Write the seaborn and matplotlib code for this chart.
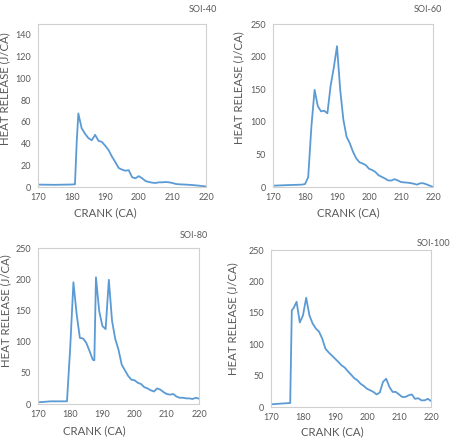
import numpy as np
import pandas as pd
import matplotlib
matplotlib.use("Agg")
import matplotlib.pyplot as plt
import seaborn as sns

# Crank angle (CA) and heat release (J/CA)
crank_40 = [170, 175, 180, 181, 181.5, 182, 183, 184, 185, 186, 187, 188, 189, 190, 191, 192,
            193, 194, 195, 196, 197, 198, 199, 200, 201, 202, 203, 204, 205, 206, 207, 208,
            209, 210, 211, 212, 214, 216, 218, 220]
hrr_40 = [2.2, 2.0, 2.3, 2.5, 40, 67.7, 54, 49, 45, 43, 48, 42.5, 41.5, 38, 34, 28,
          23, 17.5, 16, 15, 15.5, 9, 8, 10, 8, 5.5, 4.6, 4, 3.7, 4.3, 4.3, 4.6,
          4.3, 3.7, 2.8, 2.5, 2.2, 1.8, 1.2, 0.5]

crank_60 = [170, 175, 179, 180, 181, 182, 183, 184, 185, 186, 187, 188, 189, 190, 191, 192,
            193, 194, 195, 196, 197, 198, 199, 200, 201, 202, 203, 204, 205, 206, 207, 208,
            209, 210, 211, 212, 213, 214, 215, 216, 217, 218, 219, 220]
hrr_60 = [2, 3, 3.6, 4.5, 15, 93, 149, 124, 116, 117, 113, 155, 183, 216, 149, 103,
          77, 67, 54, 44, 38, 36, 33.5, 28, 26, 23, 18, 15.5, 13, 10, 10, 12,
          10, 7.7, 7, 6.7, 6, 5, 3.6, 5.7, 5.7, 4, 2, 0]

crank_80 = [170, 174, 179, 180, 181, 182, 183, 184, 185, 186, 187, 187.5, 188, 189, 190, 191,
            192, 193, 194, 195, 196, 197, 198, 199, 200, 201, 202, 203, 204, 205, 206, 207,
            208, 209, 210, 211, 212, 213, 214, 215, 216, 217, 218, 219, 220]
hrr_80 = [2.7, 4.3, 4.3, 90, 195, 144, 106, 105, 98, 85, 71, 70, 203, 149, 125, 120,
          199, 133, 104, 87, 63, 54, 45, 39, 38, 34, 32, 27, 25, 22, 20, 25,
          23, 19, 16, 15, 16, 12, 10, 10, 9, 9, 8, 10, 8.5]

crank_100 = [170, 176, 176.5, 177, 178, 179, 180, 181, 182, 183, 184, 185, 186, 187, 188, 189,
             190, 191, 192, 193, 194, 195, 196, 197, 198, 199, 200, 201, 202, 203, 204, 205,
             206, 207, 208, 209, 210, 211, 212, 213, 214, 215, 216, 217, 218, 219, 220]
hrr_100 = [4.3, 6.4, 154, 157, 167.5, 134.6, 146, 174, 146, 133, 125, 120, 109, 93, 87, 82,
           77, 72, 66.5, 63, 57, 51.6, 46, 42.5, 37, 33.5, 29, 26.6, 24, 20, 23, 40,
           45, 32, 24, 24, 20, 16, 16, 18.6, 20, 13, 14, 10.6, 10.6, 13, 9.6]

panels = [
    ("SOI-40", crank_40, hrr_40, 150, np.arange(0, 141, 20)),
    ("SOI-60", crank_60, hrr_60, 250, np.arange(0, 251, 50)),
    ("SOI-80", crank_80, hrr_80, 250, np.arange(0, 251, 50)),
    ("SOI-100", crank_100, hrr_100, 250, np.arange(0, 251, 50)),
]

W, H = 451, 440

# axes boxes in pixels: left, top, right, bottom
boxes = [(38, 24, 206, 187), (273, 24, 433, 187), (38, 248, 199, 404), (271, 250, 431, 407)]
# label centres in pixels
xlab_px = [(105, 213), (348, 213), (94, 431), (332, 432)]
ylab_px = [(5, 89), (239, 88), (6, 311), (233, 319)]
# SOI tag: right edge, vertical centre
tag_px = [(217, 10), (442, 10), (208, 235), (450, 243)]

sns.set_style("white")
plt.rcParams["font.family"] = ["Lato", "DejaVu Sans"]

line_color = "#5B9BD5"
text_gray = "#595959"


def fx(px):
    return px / W


def fy(py):
    return 1 - py / H


fig = plt.figure(figsize=(W / 100, H / 100), dpi=100)

for i, (name, x, y, ymax, yticks) in enumerate(panels):
    l, t, r, b = boxes[i]
    ax = fig.add_axes([fx(l), fy(b), (r - l) / W, (b - t) / H])
    df = pd.DataFrame({"crank": x, "hrr": y})
    sns.lineplot(data=df, x="crank", y="hrr", ax=ax, color=line_color, linewidth=1.3)
    ax.set_xlim(170, 220)
    ax.set_ylim(0, ymax)
    ax.set_xticks(np.arange(170, 221, 10))
    ax.set_yticks(yticks)
    ax.tick_params(axis="x", length=0, labelsize=6.5, colors=text_gray, pad=4)
    ax.tick_params(axis="y", length=0, labelsize=6.5, colors=text_gray, pad=5)
    for s in ax.spines.values():
        s.set_color("#D0D0D0")
        s.set_linewidth(0.8)
    ax.set_xlabel("CRANK (CA)", fontsize=8.2, color=text_gray, va="center")
    ax.set_ylabel("HEAT RELEASE (J/CA)", fontsize=8.2, color=text_gray, va="center")
    ax.xaxis.set_label_coords(fx(xlab_px[i][0]), fy(xlab_px[i][1]), transform=fig.transFigure)
    ax.yaxis.set_label_coords(fx(ylab_px[i][0]), fy(ylab_px[i][1]), transform=fig.transFigure)
    fig.text(fx(tag_px[i][0]), fy(tag_px[i][1]), name, ha="right", va="center",
             fontsize=6.5, color=text_gray)

fig.savefig("out.png", dpi=100)
